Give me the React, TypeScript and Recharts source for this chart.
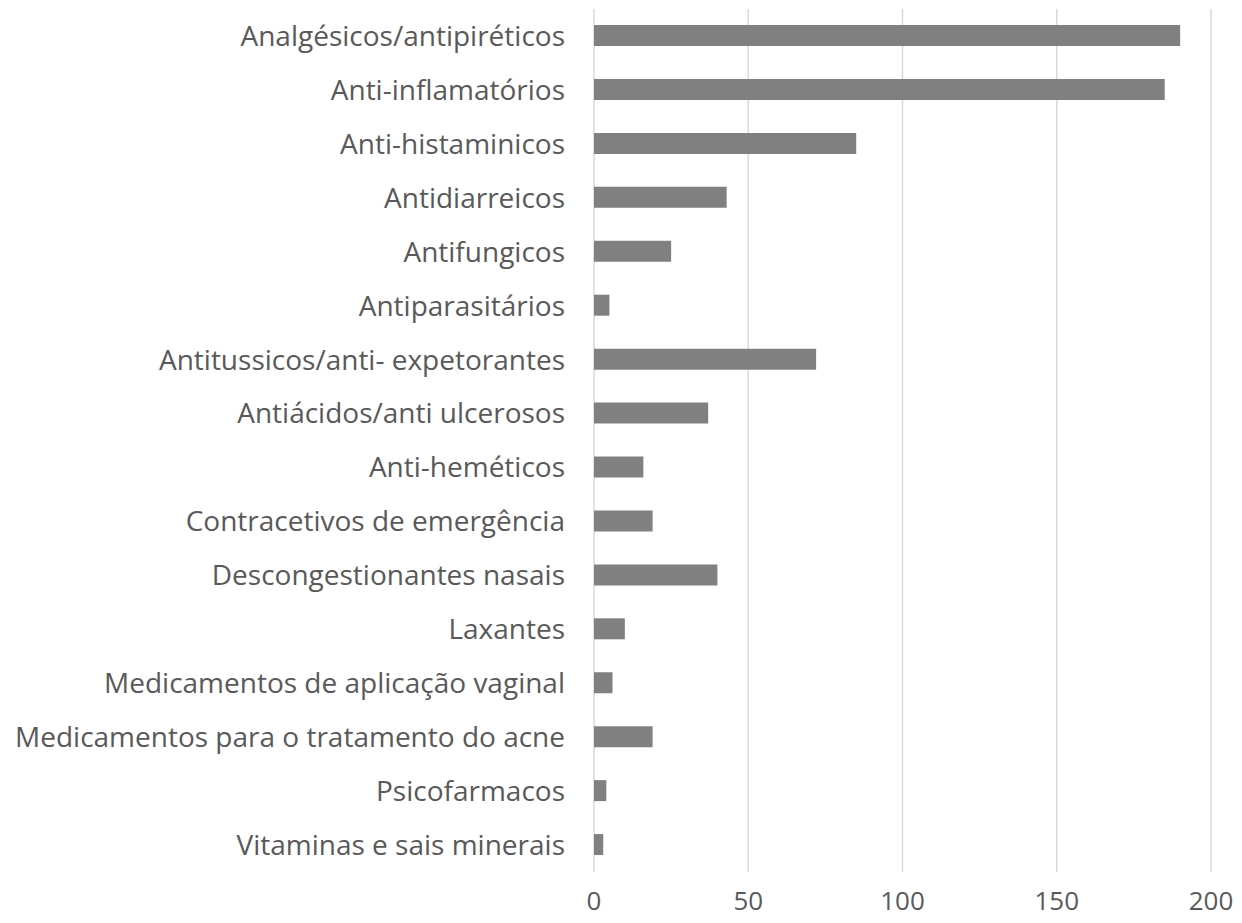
import { BarChart, Bar, XAxis, YAxis, CartesianGrid } from "recharts";

const categories = [
  "Analgésicos/antipiréticos",
  "Anti-inflamatórios",
  "Anti-histaminicos",
  "Antidiarreicos",
  "Antifungicos",
  "Antiparasitários",
  "Antitussicos/anti- expetorantes",
  "Antiácidos/anti ulcerosos",
  "Anti-heméticos",
  "Contracetivos de emergência",
  "Descongestionantes nasais",
  "Laxantes",
  "Medicamentos de aplicação vaginal",
  "Medicamentos para o tratamento do acne",
  "Psicofarmacos",
  "Vitaminas e sais minerais",
];

const counts = [190, 185, 85, 43, 25, 5, 72, 37, 16, 19, 40, 10, 6, 19, 4, 3];

const xTicks = [0, 50, 100, 150, 200];

const data = categories.map((name, i) => ({ name, value: counts[i] }));

const font = "'Open Sans', sans-serif";

export default function App() {
  return (
    <div style={{ position: "absolute", left: 0, top: 0, background: "#fff" }}>
      <BarChart
        width={1242}
        height={923}
        data={data}
        layout="vertical"
        margin={{ top: 9, right: 31, bottom: 0, left: 0 }}
      >
        <CartesianGrid horizontal={false} stroke="#d9d9d9" strokeWidth={1.5} />
        <XAxis
          type="number"
          domain={[0, 200]}
          ticks={xTicks}
          height={51}
          axisLine={false}
          tickLine={false}
          tickMargin={14}
          tick={{ fill: "#595959", fontSize: 26, fontFamily: font }}
        />
        <YAxis
          type="category"
          dataKey="name"
          width={594}
          axisLine={false}
          tickLine={false}
          tickSize={0}
          tickMargin={29}
          interval={0}
          tick={{ fill: "#595959", fontSize: 28, fontFamily: font }}
        />
        <Bar dataKey="value" fill="#808080" barSize={21} isAnimationActive={false} />
      </BarChart>
    </div>
  );
}
